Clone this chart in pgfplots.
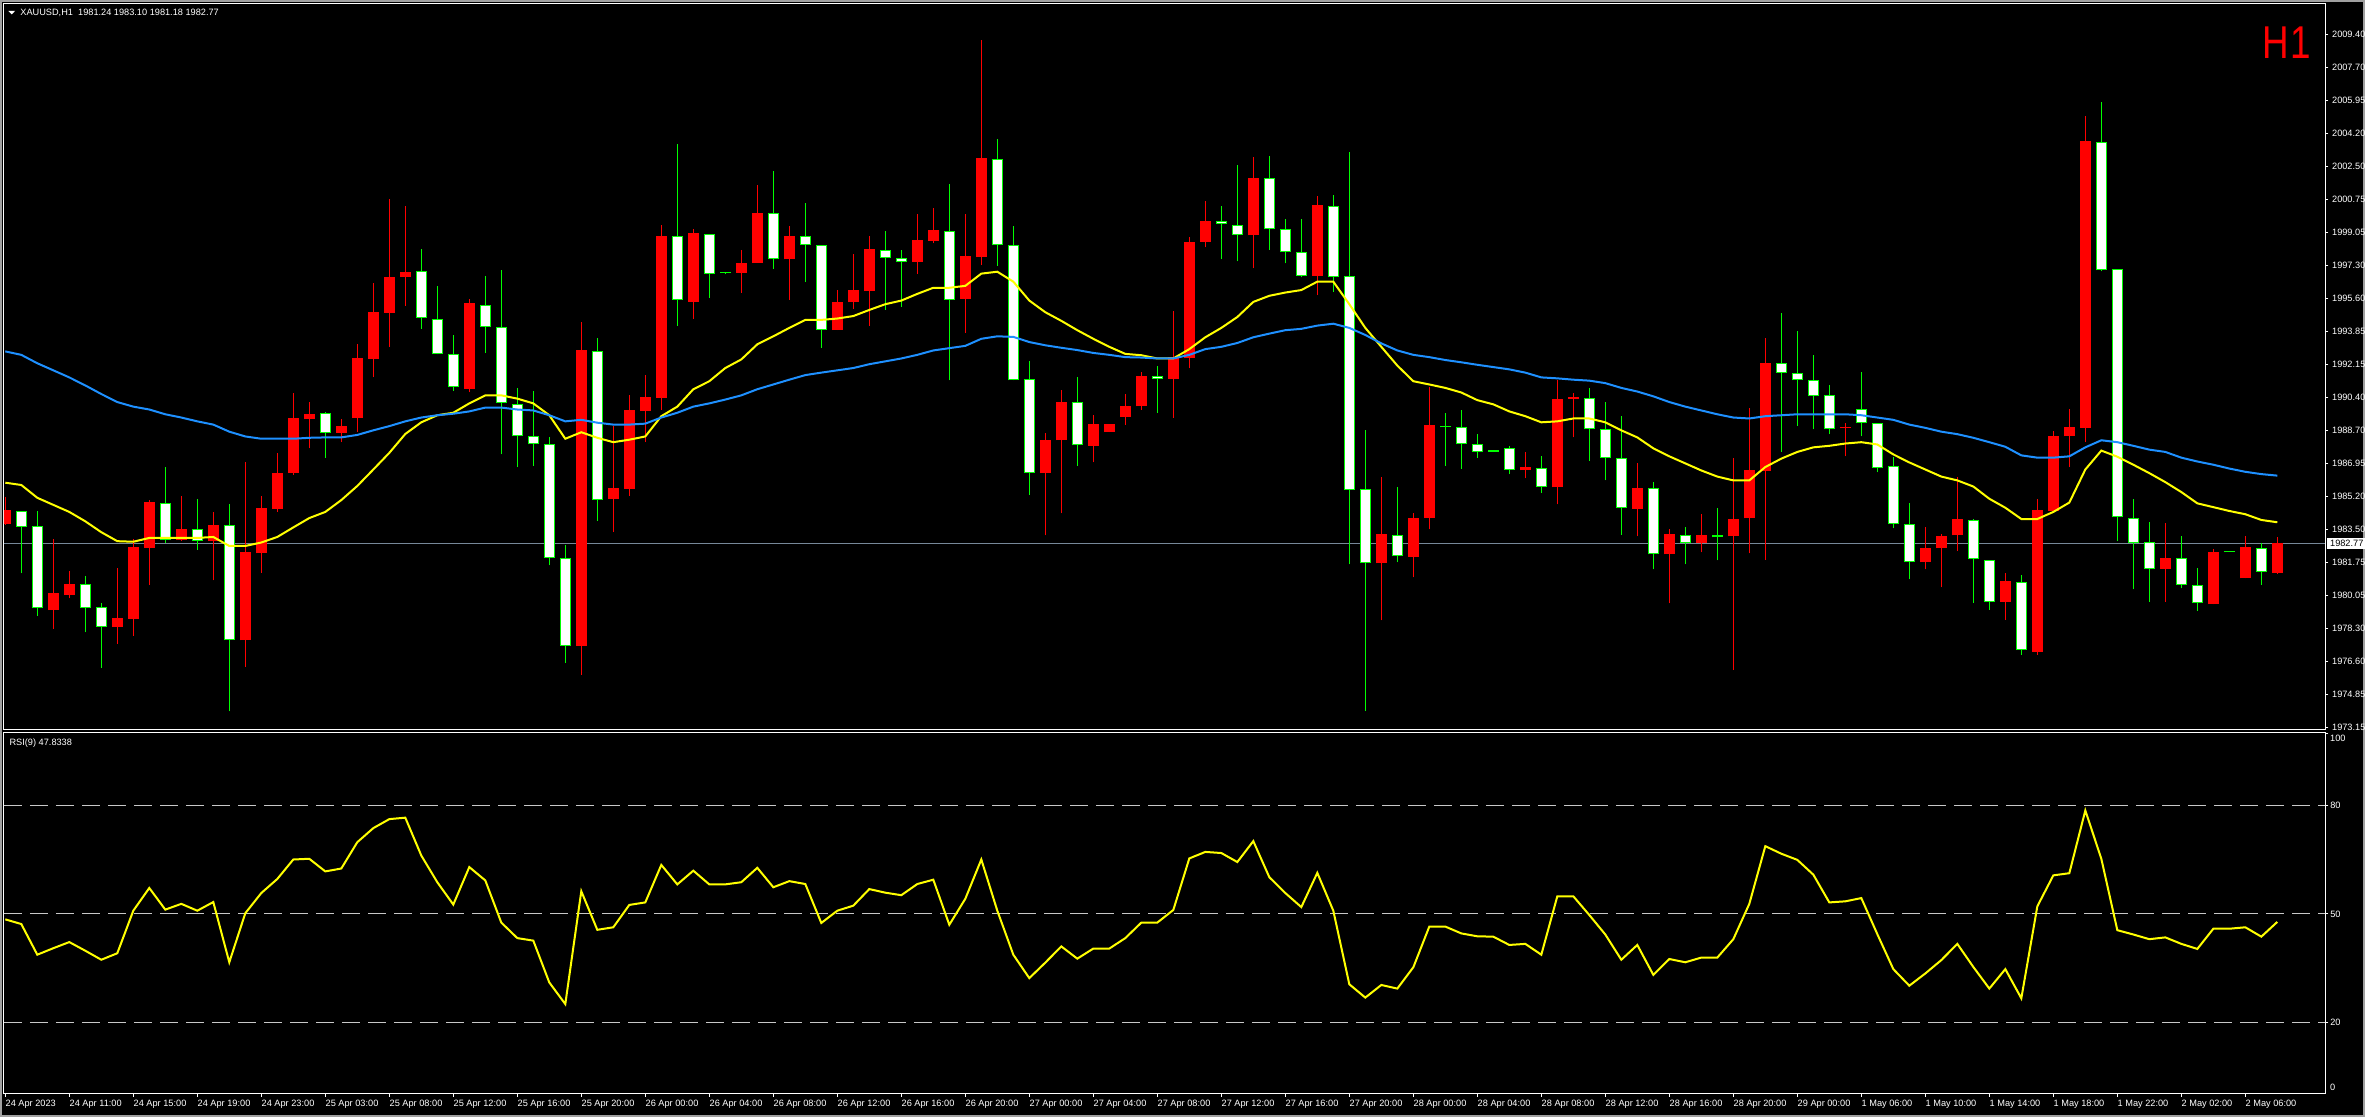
\documentclass[border=0pt]{standalone}
\usepackage{pgfplots}
\pgfplotsset{compat=1.18}
\usepackage{pgfplotstable}
\usepackage{graphicx}
\usepackage{fontspec}
\setmainfont{Liberation Sans}
\definecolor{bullred}{RGB}{255,0,0}
\definecolor{bearline}{RGB}{0,255,0}
\definecolor{maBlue}{RGB}{30,144,255}
\definecolor{maYellow}{RGB}{255,255,0}
\definecolor{priceline}{RGB}{119,136,153}
\definecolor{lvl}{RGB}{200,200,200}
\definecolor{outerframe}{RGB}{160,160,160}
\newcommand\tk{\fontsize{4.6}{5.5}\selectfont}

% bullish candles (drawn red)
\pgfplotstableread{
n o h l c
0 1983.79 1985.20 1983.75 1984.51
3 1979.27 1983.00 1978.29 1980.16
4 1980.06 1981.32 1979.89 1980.66
7 1978.38 1981.47 1977.52 1978.88
8 1978.83 1983.00 1977.92 1982.58
9 1982.53 1985.05 1980.58 1984.93
11 1982.93 1985.25 1982.88 1983.52
13 1982.88 1984.41 1980.83 1983.74
15 1977.69 1987.00 1976.31 1982.29
16 1982.24 1985.25 1981.22 1984.63
17 1984.56 1987.50 1984.41 1986.46
18 1986.44 1990.63 1986.36 1989.32
19 1989.27 1990.16 1987.74 1989.55
21 1988.56 1989.27 1988.06 1988.90
22 1989.30 1993.20 1988.58 1992.46
23 1992.41 1996.39 1991.47 1994.88
24 1994.83 2000.78 1993.05 1996.71
25 1996.71 2000.44 1995.20 1996.98
29 1990.86 1995.55 1990.66 1995.35
36 1977.42 1994.36 1975.89 1992.88
38 1985.08 1988.90 1983.35 1985.67
39 1985.62 1990.53 1985.25 1989.74
40 1989.69 1991.57 1988.06 1990.41
41 1990.39 1999.40 1989.77 1998.86
43 1995.40 1999.23 1994.51 1999.00
46 1996.93 1998.12 1995.87 1997.45
47 1997.45 2001.52 1997.45 2000.07
49 1997.62 1999.38 1995.50 1998.86
52 1993.92 1996.04 1993.92 1995.40
53 1995.37 1997.92 1995.03 1996.04
54 1995.97 1998.86 1994.16 1998.16
57 1997.50 2000.02 1996.88 1998.63
58 1998.58 2000.31 1998.46 1999.18
60 1995.57 2000.02 1993.79 1997.82
61 1997.75 2009.10 1997.33 2002.93
65 1986.44 1988.56 1983.18 1988.19
66 1988.16 1990.81 1984.34 1990.16
68 1987.87 1989.50 1987.00 1989.03
69 1988.58 1989.03 1988.58 1989.03
70 1989.40 1990.58 1988.98 1989.97
71 1989.94 1991.74 1989.77 1991.52
73 1991.37 1994.93 1989.35 1992.51
74 1992.46 1998.81 1991.92 1998.54
75 1998.54 2000.68 1998.26 1999.65
78 1998.88 2002.98 1997.15 2001.89
82 1996.76 2000.95 1995.75 2000.49
86 1981.72 1986.24 1978.73 1983.25
88 1982.06 1984.36 1980.98 1984.09
89 1984.09 1990.93 1983.50 1988.95
95 1986.58 1987.55 1986.16 1986.76
97 1985.69 1991.33 1984.81 1990.34
98 1990.34 1990.63 1988.31 1990.36
102 1984.58 1986.98 1983.13 1985.67
104 1982.19 1983.52 1979.62 1983.25
106 1982.78 1984.31 1982.29 1983.20
108 1983.13 1987.25 1976.14 1984.04
109 1984.07 1989.84 1982.24 1986.58
110 1986.53 1993.52 1981.92 1992.21
115 1988.79 1989.05 1987.32 1988.81
120 1981.77 1983.62 1981.40 1982.53
121 1982.51 1983.25 1980.46 1983.15
122 1983.18 1986.24 1982.36 1984.04
125 1979.72 1981.22 1978.78 1980.80
127 1977.10 1985.08 1976.93 1984.51
128 1984.48 1988.66 1984.41 1988.39
129 1988.36 1989.79 1986.76 1988.86
130 1988.81 2005.15 1988.06 2003.82
135 1981.45 1983.84 1979.72 1982.01
138 1979.59 1982.48 1979.57 1982.31
140 1980.93 1983.15 1980.93 1982.56
142 1981.24 1983.10 1981.18 1982.77
}\bull

% bearish candles (drawn white with green outline)
\pgfplotstableread{
n o h l c
1 1984.46 1984.46 1981.20 1983.64
2 1983.67 1984.46 1978.98 1979.37
5 1980.63 1981.08 1978.11 1979.37
6 1979.45 1979.64 1976.26 1978.41
10 1984.90 1986.76 1982.81 1982.95
12 1983.50 1985.10 1982.43 1982.90
14 1983.72 1984.83 1973.97 1977.69
20 1989.57 1989.65 1987.25 1988.53
26 1997.00 1998.16 1993.99 1994.58
27 1994.53 1996.24 1992.66 1992.66
28 1992.66 1993.67 1990.76 1990.93
30 1995.23 1996.76 1992.73 1994.11
31 1994.07 1997.08 1987.42 1990.09
32 1990.04 1990.90 1986.76 1988.36
33 1988.36 1990.76 1986.83 1987.94
34 1987.94 1988.34 1981.62 1981.99
35 1981.99 1982.66 1976.51 1977.42
37 1992.81 1993.52 1983.94 1985.03
42 1998.86 2003.67 1994.16 1995.52
44 1998.93 1998.93 1995.62 1996.88
45 1996.91 1996.93 1996.88 1996.91
48 2000.04 2002.26 1997.13 1997.62
50 1998.86 2000.58 1996.44 1998.36
51 1998.36 1998.36 1993.00 1993.92
55 1998.14 1999.13 1995.00 1997.72
56 1997.72 1998.12 1995.15 1997.47
59 1999.10 2001.57 1991.30 1995.52
62 2002.86 2003.92 1997.30 1998.36
63 1998.36 1999.38 1991.30 1991.30
64 1991.35 1992.31 1985.32 1986.44
67 1990.14 1991.47 1986.83 1987.89
72 1991.50 1992.04 1989.60 1991.35
76 1999.65 2000.44 1997.62 1999.50
77 1999.45 2002.56 1997.52 1998.91
79 2001.87 2003.03 1998.14 1999.20
80 1999.20 1999.75 1997.42 1997.99
81 1997.99 1999.75 1996.68 1996.78
83 2000.41 2001.00 1995.94 1996.68
84 1996.73 2003.25 1981.67 1985.55
85 1985.60 1988.71 1974.01 1981.72
87 1983.22 1985.72 1981.77 1982.09
90 1988.93 1989.60 1986.83 1988.83
91 1988.83 1989.74 1986.68 1987.94
92 1987.94 1988.48 1987.25 1987.57
93 1987.57 1987.57 1987.57 1987.57
94 1987.74 1987.87 1986.39 1986.63
96 1986.73 1987.35 1985.40 1985.69
99 1990.36 1990.90 1987.10 1988.73
100 1988.73 1990.16 1986.06 1987.23
101 1987.23 1989.45 1983.22 1984.61
103 1985.64 1985.99 1981.40 1982.19
105 1983.22 1983.62 1981.67 1982.81
107 1983.18 1984.63 1981.87 1983.08
111 1992.19 1994.83 1987.57 1991.70
112 1991.67 1993.89 1988.93 1991.30
113 1991.30 1992.63 1988.73 1990.46
114 1990.51 1991.05 1988.48 1988.73
116 1989.82 1991.74 1988.36 1989.05
117 1989.05 1989.05 1986.48 1986.73
118 1986.81 1987.30 1983.55 1983.79
119 1983.79 1984.88 1980.88 1981.77
123 1983.99 1984.04 1979.67 1981.94
124 1981.87 1981.87 1979.30 1979.69
126 1980.73 1981.13 1976.95 1977.18
131 2003.75 2005.84 1997.00 1997.05
132 1997.10 1997.10 1982.88 1984.14
133 1984.07 1985.08 1980.36 1982.78
134 1982.83 1983.89 1979.72 1981.45
136 1982.01 1983.15 1980.41 1980.58
137 1980.58 1981.47 1979.25 1979.64
139 1982.31 1982.31 1982.31 1982.31
141 1982.51 1982.76 1980.61 1981.27
}\bear

% fast moving average (yellow)
\pgfplotstableread{
n v
0 1985.94
1 1985.82
2 1985.15
3 1984.78
4 1984.41
5 1983.92
6 1983.35
7 1982.88
8 1982.85
9 1983.05
10 1983.05
11 1983.05
12 1983.05
13 1983.10
14 1982.63
15 1982.63
16 1982.81
17 1983.10
18 1983.60
19 1984.09
20 1984.41
21 1985.03
22 1985.77
23 1986.63
24 1987.50
25 1988.49
26 1989.10
27 1989.47
28 1989.60
29 1990.09
30 1990.51
31 1990.51
32 1990.34
33 1990.09
34 1989.47
35 1988.24
36 1988.58
37 1988.29
38 1988.06
39 1988.19
40 1988.36
41 1989.42
42 1989.92
43 1990.83
44 1991.25
45 1991.94
46 1992.39
47 1993.18
48 1993.60
49 1994.04
50 1994.46
51 1994.46
52 1994.53
53 1994.66
54 1994.98
55 1995.28
56 1995.47
57 1995.82
58 1996.14
59 1996.14
60 1996.24
61 1996.88
62 1996.98
63 1996.46
64 1995.47
65 1994.86
66 1994.41
67 1993.92
68 1993.47
69 1993.05
70 1992.68
71 1992.61
72 1992.44
73 1992.44
74 1992.93
75 1993.55
76 1994.04
77 1994.61
78 1995.40
79 1995.72
80 1995.89
81 1996.02
82 1996.46
83 1996.46
84 1995.28
85 1994.04
86 1993.05
87 1992.07
88 1991.25
89 1991.08
90 1990.90
91 1990.66
92 1990.26
93 1990.04
94 1989.67
95 1989.42
96 1989.10
97 1989.15
98 1989.30
99 1989.30
100 1989.10
101 1988.68
102 1988.31
103 1987.74
104 1987.32
105 1986.95
106 1986.58
107 1986.26
108 1986.06
109 1986.06
110 1986.76
111 1987.20
112 1987.55
113 1987.79
114 1987.87
115 1987.99
116 1988.06
117 1987.94
118 1987.42
119 1987.00
120 1986.63
121 1986.26
122 1986.06
123 1985.74
124 1985.10
125 1984.63
126 1984.04
127 1984.04
128 1984.41
129 1984.90
130 1986.63
131 1987.62
132 1987.30
133 1986.88
134 1986.44
135 1985.97
136 1985.45
137 1984.86
138 1984.66
139 1984.46
140 1984.29
141 1983.99
142 1983.87
}\yma

% slow moving average (blue)
\pgfplotstableread{
n v
0 1992.81
1 1992.63
2 1992.19
3 1991.82
4 1991.45
5 1991.03
6 1990.58
7 1990.16
8 1989.92
9 1989.77
10 1989.52
11 1989.35
12 1989.15
13 1988.98
14 1988.61
15 1988.36
16 1988.24
17 1988.24
18 1988.24
19 1988.29
20 1988.31
21 1988.31
22 1988.44
23 1988.68
24 1988.90
25 1989.15
26 1989.35
27 1989.47
28 1989.55
29 1989.67
30 1989.87
31 1989.87
32 1989.77
33 1989.72
34 1989.47
35 1989.15
36 1989.23
37 1989.08
38 1988.98
39 1988.98
40 1989.03
41 1989.35
42 1989.60
43 1989.92
44 1990.09
45 1990.29
46 1990.51
47 1990.83
48 1991.08
49 1991.33
50 1991.57
51 1991.70
52 1991.82
53 1991.94
54 1992.14
55 1992.29
56 1992.44
57 1992.63
58 1992.86
59 1992.98
60 1993.10
61 1993.47
62 1993.60
63 1993.57
64 1993.30
65 1993.13
66 1993.00
67 1992.88
68 1992.73
69 1992.63
70 1992.51
71 1992.49
72 1992.44
73 1992.44
74 1992.63
75 1992.93
76 1993.05
77 1993.25
78 1993.55
79 1993.74
80 1993.92
81 1993.99
82 1994.16
83 1994.26
84 1994.04
85 1993.67
86 1993.23
87 1992.86
88 1992.63
89 1992.51
90 1992.36
91 1992.24
92 1992.11
93 1991.99
94 1991.87
95 1991.70
96 1991.45
97 1991.40
98 1991.33
99 1991.28
100 1991.15
101 1990.90
102 1990.71
103 1990.46
104 1990.16
105 1989.92
106 1989.72
107 1989.52
108 1989.35
109 1989.30
110 1989.42
111 1989.47
112 1989.52
113 1989.52
114 1989.52
115 1989.52
116 1989.47
117 1989.35
118 1989.23
119 1988.98
120 1988.81
121 1988.61
122 1988.48
123 1988.29
124 1988.06
125 1987.82
126 1987.37
127 1987.25
128 1987.25
129 1987.32
130 1987.79
131 1988.16
132 1988.06
133 1987.87
134 1987.67
135 1987.55
136 1987.25
137 1987.05
138 1986.88
139 1986.68
140 1986.51
141 1986.39
142 1986.31
}\bma

% RSI(9)
\pgfplotstableread{
n v
0 48.5
1 47.2
2 38.7
3 40.5
4 42.2
5 39.8
6 37.3
7 39.1
8 50.9
9 57.2
10 51.2
11 52.8
12 50.9
13 53.3
14 36.6
15 50.2
16 55.8
17 59.7
18 65.1
19 65.3
20 61.8
21 62.6
22 69.9
23 73.8
24 76.3
25 76.7
26 66.2
27 58.8
28 52.6
29 63.0
30 59.3
31 47.6
32 43.3
33 42.6
34 31.0
35 25.0
36 56.3
37 45.6
38 46.3
39 52.5
40 53.2
41 63.6
42 58.2
43 62.0
44 58.2
45 58.2
46 58.8
47 62.8
48 57.4
49 59.1
50 58.3
51 47.5
52 50.9
53 52.3
54 56.9
55 55.9
56 55.2
57 58.3
58 59.5
59 47.0
60 54.2
61 65.1
62 50.9
63 38.7
64 32.2
65 36.5
66 41.0
67 37.6
68 40.4
69 40.4
70 43.3
71 47.6
72 47.6
73 51.1
74 65.4
75 67.2
76 66.9
77 64.4
78 70.2
79 60.2
80 55.8
81 51.9
82 61.4
83 50.9
84 30.5
85 26.8
86 30.3
87 29.3
88 35.2
89 46.5
90 46.5
91 44.6
92 43.8
93 43.7
94 41.4
95 41.7
96 38.7
97 54.9
98 54.9
99 49.7
100 44.3
101 37.3
102 41.4
103 33.1
104 37.5
105 36.6
106 37.9
107 37.9
108 43.0
109 52.8
110 68.8
111 66.7
112 65.0
113 60.9
114 53.2
115 53.5
116 54.4
117 44.4
118 34.7
119 30.1
120 33.5
121 37.2
122 41.7
123 35.3
124 29.3
125 34.7
126 26.6
127 52.1
128 60.7
129 61.3
130 78.7
131 65.3
132 45.5
133 44.3
134 43.0
135 43.5
136 41.7
137 40.3
138 45.9
139 45.9
140 46.3
141 43.7
142 47.8
}\rsi

\begin{document}
\begin{tikzpicture}
\fill[black] (0,0) rectangle (1182.5pt,558.5pt);
\draw[outerframe, line width=1pt] (0.5pt,0.5pt) rectangle (1182pt,558pt);

% ---------------- price panel ----------------
\begin{axis}[
  at={(2pt,193.5pt)}, anchor=south west,
  scale only axis, width=1160.65pt, height=363pt,
  xmin=-0.081, xmax=145, ymin=1973.00, ymax=2010.99,
  axis line style={white, line width=0.5pt},
  xtick=\empty,
  ytick={2009.400,2007.674,2005.948,2004.221,2002.495,2000.769,1999.043,1997.317,1995.590,1993.864,1992.138,1990.412,1988.686,1986.960,1985.233,1983.507,1981.781,1980.055,1978.329,1976.602,1974.876,1973.150},
  yticklabels={2009.40,2007.70,2005.95,2004.20,2002.50,2000.75,1999.05,1997.30,1995.60,1993.85,1992.15,1990.40,1988.70,1986.95,1985.20,1983.50,1981.75,1980.05,1978.30,1976.60,1974.85,1973.15},
  ytick pos=right, yticklabel pos=right,
  tick align=outside, major tick length=1.5pt,
  tick style={white, line width=0.5pt},
  yticklabel style={font=\tk, text=white, inner sep=0pt, anchor=west, xshift=1.7pt},
]
\addplot[priceline, line width=0.5pt] coordinates {(-0.081,1982.77) (145,1982.77)};
% wicks
\addplot[draw=none, error bars/.cd, y dir=plus, y explicit, error mark=none,
  error bar style={draw=bullred, line width=0.5pt}]
  table[x=n, y=l, y error plus expr={\thisrow{h}-\thisrow{l}}] {\bull};
\addplot[draw=none, error bars/.cd, y dir=plus, y explicit, error mark=none,
  error bar style={draw=bearline, line width=0.5pt}]
  table[x=n, y=l, y error plus expr={\thisrow{h}-\thisrow{l}}] {\bear};
% bodies
\addplot[draw=none, error bars/.cd, y dir=plus, y explicit, error mark=none,
  error bar style={draw=bullred, line width=5.35pt}]
  table[x=n, y=o, y error plus expr={max(\thisrow{c}-\thisrow{o},0.06)}] {\bull};
\addplot[draw=none, error bars/.cd, y dir=plus, y explicit, error mark=none,
  error bar style={draw=bearline, line width=5.35pt}]
  table[x=n, y=c, y error plus expr={max(\thisrow{o}-\thisrow{c},0.06)}] {\bear};
\addplot[draw=none, error bars/.cd, y dir=plus, y explicit, error mark=none,
  error bar style={draw=white, line width=4.35pt}]
  table[x=n, y expr={\thisrow{c}+0.052}, y error plus expr={max(\thisrow{o}-\thisrow{c}-0.104,0)}] {\bear};
% moving averages
\addplot[maYellow, line width=1pt] table[x=n, y=v] {\yma};
\addplot[maBlue, line width=1pt] table[x=n, y=v] {\bma};
\coordinate (cp) at (axis cs:145,1982.77);
\end{axis}

% ---------------- RSI panel ----------------
\begin{axis}[
  at={(2pt,11.65pt)}, anchor=south west,
  scale only axis, width=1160.65pt, height=180.7pt,
  xmin=-0.081, xmax=145, ymin=0.15, ymax=100.38,
  axis line style={white, line width=0.5pt},
  xtick={0,4,...,140},
  xticklabels={24 Apr 2023,24 Apr 11:00,24 Apr 15:00,24 Apr 19:00,24 Apr 23:00,25 Apr 03:00,25 Apr 08:00,25 Apr 12:00,25 Apr 16:00,25 Apr 20:00,26 Apr 00:00,26 Apr 04:00,26 Apr 08:00,26 Apr 12:00,26 Apr 16:00,26 Apr 20:00,27 Apr 00:00,27 Apr 04:00,27 Apr 08:00,27 Apr 12:00,27 Apr 16:00,27 Apr 20:00,28 Apr 00:00,28 Apr 04:00,28 Apr 08:00,28 Apr 12:00,28 Apr 16:00,28 Apr 20:00,29 Apr 00:00,1 May 06:00,1 May 10:00,1 May 14:00,1 May 18:00,1 May 22:00,2 May 02:00,2 May 06:00},
  xtick pos=bottom,
  ytick={20,50,80}, yticklabels={20,50,80},
  extra y ticks={0,100}, extra y tick labels={},
  ytick pos=right, yticklabel pos=right,
  tick align=outside, major tick length=1.5pt,
  tick style={white, line width=0.5pt},
  yticklabel style={font=\tk, text=white, inner sep=0pt, anchor=west, xshift=0.8pt},
  xticklabel style={font=\tk, text=white, inner sep=0pt, anchor=north west, yshift=-1.6pt},
]
\addplot[lvl, line width=0.5pt, dash pattern=on 9pt off 4pt] coordinates {(-0.081,80) (145,80)};
\addplot[lvl, line width=0.5pt, dash pattern=on 9pt off 4pt] coordinates {(-0.081,50) (145,50)};
\addplot[lvl, line width=0.5pt, dash pattern=on 9pt off 4pt] coordinates {(-0.081,20) (145,20)};
\addplot[maYellow, line width=1pt] table[x=n, y=v] {\rsi};
\coordinate (rtop) at (rel axis cs:1,1);
\coordinate (rbot) at (rel axis cs:1,0);
\end{axis}

% labels
\node[font=\tk, text=white, anchor=west, inner sep=0pt] at ([xshift=2.2pt, yshift=-2.8pt]rtop) {100};
\node[font=\tk, text=white, anchor=west, inner sep=0pt] at ([xshift=2.2pt, yshift=3.2pt]rbot) {0};
\node[fill=white, text=black, font=\tk, anchor=west, inner xsep=1.5pt, inner ysep=0pt, minimum height=5.6pt] at ([xshift=0.7pt]cp) {1982.77};
\fill[white] (4.2pt,553pt) -- (7.5pt,553pt) -- (5.85pt,551.3pt) -- cycle;
\node[font=\tk, text=white, anchor=north west, inner sep=0pt] at (10pt,554pt) {XAUUSD,H1\ \ 1981.24 1983.10 1981.18 1982.77};
\node[font=\tk, text=white, anchor=north west, inner sep=0pt] at (4.6pt,189.3pt) {RSI(9) 47.8338};
\node[text=bullred, anchor=north west, inner sep=0pt, font=\fontsize{23}{23}\selectfont] at (1130.8pt,545.5pt) {\scalebox{0.8}[1]{H\kern1pt1}};
\pgfresetboundingbox
\path (0,0) rectangle (1182.5pt,558.5pt);
\end{tikzpicture}
\end{document}
